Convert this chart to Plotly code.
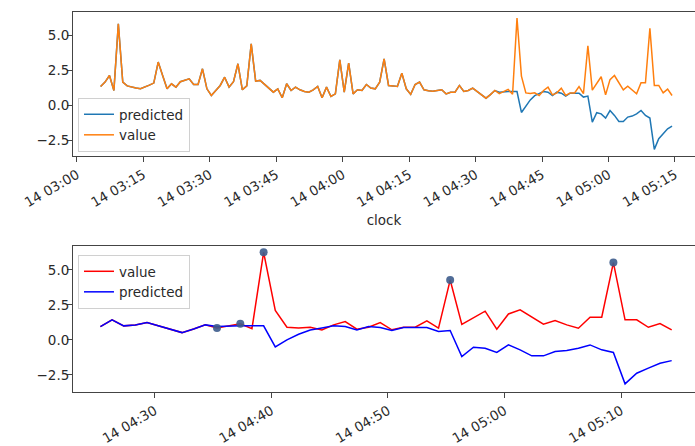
import pandas as pd
import plotly.graph_objects as go

# ---- data ----
day = "2021-01-14"
start_time = day + " 03:05:20"
recent_start = day + " 04:25:20"

value_early = [
    1.35, 1.67, 2.14, 1.07, 5.83, 1.67, 1.40, 1.30, 1.25, 1.20,
    1.30, 1.45, 1.60, 3.10, 2.14, 1.19, 1.55, 1.31, 1.70, 1.80,
    1.90, 1.50, 1.50, 2.62, 1.19, 0.71, 1.10, 1.43, 2.02, 1.31,
    1.70, 2.98, 1.12, 1.40, 4.40, 1.74, 1.79, 1.50, 1.20, 0.95,
    1.19, 0.55, 1.55, 1.07, 1.31, 1.12, 1.00, 0.95, 1.12, 1.36,
    0.55, 1.31, 0.64, 0.83, 3.26, 0.95, 3.02, 0.83, 1.12, 1.07,
    1.50, 1.25, 1.19, 1.67, 3.33, 1.43, 1.40, 1.36, 2.31, 1.19,
    0.79, 1.50, 1.67, 1.12, 1.05, 1.02, 1.07, 1.12, 0.83, 0.95,
]

value_recent = [
    0.95, 1.43, 1.00, 1.07, 1.24, 1.00, 0.78, 0.52, 0.78, 1.07,
    0.85, 1.00, 1.15, 0.80, 6.25, 2.10, 0.90, 0.85, 0.90, 0.71,
    1.07, 1.31, 0.76, 0.90, 1.24, 0.72, 0.90, 0.90, 1.35, 0.84,
    4.27, 1.10, 1.55, 2.05, 0.76, 1.85, 2.14, 1.65, 1.12, 1.38,
    1.07, 0.83, 1.62, 1.62, 5.52, 1.43, 1.43, 0.90, 1.17, 0.71,
]

predicted_recent = [
    0.95, 1.43, 1.00, 1.07, 1.24, 1.00, 0.78, 0.52, 0.78, 1.07,
    0.95, 1.00, 1.00, 1.00, 1.00, -0.50, 0.00, 0.40, 0.70, 0.85,
    1.00, 0.95, 0.71, 0.95, 0.88, 0.67, 0.88, 0.88, 0.88, 0.60,
    0.67, -1.19, -0.52, -0.60, -0.90, -0.36, -0.71, -1.14, -1.14, -0.83,
    -0.76, -0.60, -0.36, -0.71, -0.90, -3.14, -2.38, -2.02, -1.67, -1.48,
]

anomaly_idx = [10, 12, 14, 30, 44]

top_tick_times = ["03:00", "03:15", "03:30", "03:45", "04:00",
                  "04:15", "04:30", "04:45", "05:00", "05:15"]
bottom_tick_times = ["04:30", "04:40", "04:50", "05:00", "05:10"]
y_ticks = [-2.5, 0.0, 2.5, 5.0]
y_tick_labels = ["\u22122.5", "0.0", "2.5", "5.0"]

# ---- derived series ----
value_all = value_early + value_recent
predicted_all = value_early + predicted_recent
t_all = pd.date_range(start_time, periods=len(value_all), freq="1min")
t_recent = pd.date_range(recent_start, periods=len(value_recent), freq="1min")
anom_t = [t_recent[i] for i in anomaly_idx]
anom_v = [value_recent[i] for i in anomaly_idx]

FONT = "DejaVu Sans"
FS = 13.5
TXT = "#2a2a2a"

fig = go.Figure()
fig.add_trace(go.Scatter(x=t_all, y=predicted_all, mode="lines", name="predicted",
                         line=dict(color="#1f77b4", width=1.5), xaxis="x", yaxis="y",
                         legend="legend"))
fig.add_trace(go.Scatter(x=t_all, y=value_all, mode="lines", name="value",
                         line=dict(color="#ff7f0e", width=1.5), xaxis="x", yaxis="y",
                         legend="legend"))
fig.add_trace(go.Scatter(x=t_recent, y=value_recent, mode="lines", name="value",
                         line=dict(color="red", width=1.5), xaxis="x2", yaxis="y2",
                         legend="legend2"))
fig.add_trace(go.Scatter(x=t_recent, y=predicted_recent, mode="lines", name="predicted",
                         line=dict(color="blue", width=1.5), xaxis="x2", yaxis="y2",
                         legend="legend2"))
fig.add_trace(go.Scatter(x=anom_t, y=anom_v, mode="markers", showlegend=False,
                         marker=dict(color="#3d5c8c", size=8, opacity=0.9),
                         xaxis="x2", yaxis="y2"))

axis_common = dict(showline=True, linecolor="#444", linewidth=1, ticks="outside",
                   ticklen=5, tickcolor="#444", showgrid=False, zeroline=False,
                   automargin=False,
                   tickfont=dict(family=FONT, size=FS, color=TXT))

fig.update_layout(
    width=695, height=446,
    margin=dict(l=73, r=0, t=12, b=54),
    paper_bgcolor="white", plot_bgcolor="white",
    font=dict(family=FONT, size=FS, color=TXT),
    xaxis=dict(domain=[0, 1], anchor="y", mirror=True,
               range=[day + " 02:59:06", day + " 05:19:31"],
               tickmode="array",
               tickvals=[day + " " + s for s in top_tick_times],
               ticktext=["14 " + s for s in top_tick_times],
               tickangle=-30,
               title=dict(text="clock", font=dict(family=FONT, size=FS, color=TXT),
                          standoff=6),
               **axis_common),
    yaxis=dict(domain=[0.6211, 1], anchor="x", range=[-3.61, 6.68],
               tickmode="array", tickvals=y_ticks, ticktext=y_tick_labels,
               ticklabelstandoff=-5,
               **axis_common),
    xaxis2=dict(domain=[0, 1], anchor="y2", mirror=True,
                range=[day + " 04:22:59", day + " 05:16:20"],
                tickmode="array",
                tickvals=[day + " " + s for s in bottom_tick_times],
                ticktext=["14 " + s for s in bottom_tick_times],
                tickangle=-30,
                **axis_common),
    yaxis2=dict(domain=[0, 0.3842], anchor="x2", range=[-3.72, 6.7],
                tickmode="array", tickvals=y_ticks, ticktext=y_tick_labels,
                ticklabelstandoff=-5,
                **axis_common),
    legend=dict(x=0.008, y=0.7737, xanchor="left", yanchor="top",
                bgcolor="rgba(255,255,255,0.8)", bordercolor="#d0d0d0", borderwidth=1,
                font=dict(family=FONT, size=FS, color=TXT), tracegroupgap=0),
    legend2=dict(x=0.008, y=0.3605, xanchor="left", yanchor="top",
                 bgcolor="rgba(255,255,255,0.8)", bordercolor="#d0d0d0", borderwidth=1,
                 font=dict(family=FONT, size=FS, color=TXT), tracegroupgap=0),
)

fig.write_html("out.html", config={"displayModeBar": False},
               post_script="document.body.style.margin='0';document.body.style.overflow='hidden';")
